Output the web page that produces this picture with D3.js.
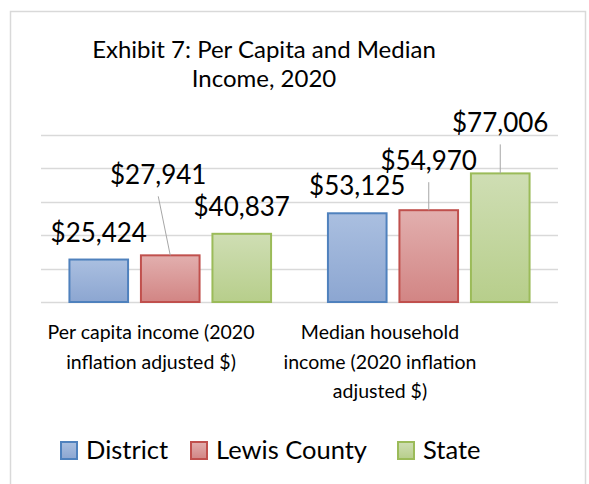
<!DOCTYPE html>
<html>
<head>
<meta charset="utf-8">
<script src="https://cdn.jsdelivr.net/npm/d3@7"></script>
<style>
  body { margin: 0; background: #fff; }
  text { font-family: Lato, "Open Sans", sans-serif; fill: #000; }
</style>
</head>
<body>
<div id="main"></div>
<script>
var categories = ['Per capita income (2020 inflation adjusted $)', 'Median household income (2020 inflation adjusted $)']
var categoryLines = [
  ['Per capita income (2020', 'inflation adjusted $)'],
  ['Median household', 'income (2020 inflation', 'adjusted $)']
]
var seriesNames = ['District', 'Lewis County', 'State']
var district = [25424, 53125]
var lewisCounty = [27941, 54970]
var state = [40837, 77006]
var yTicks = [0, 20000, 40000, 60000, 80000, 100000]

// series colours: stroke, gradient top, gradient bottom
var strokes = ['#4f81bd', '#c0504d', '#9bbb59']
var topFill = ['#aabfe0', '#e2afae', '#cfdeb4']
var bottomFill = ['#8ca6d1', '#d28584', '#b7ce8b']

// how far some labels were dragged up / sideways (px), [category][series]
var labelLift = [[0, 53, 0], [0, 22, 23]]
var labelShift = [[0, -12, 0], [0, 0, 0]]

var width = 589, height = 484
var plot = { left: 41, right: 558, top: 135, bottom: 302 }

var svg = d3.select('#main')
  .append('svg')
  .attr('width', width)
  .attr('height', height)

var defs = svg.append('defs')
seriesNames.forEach(function (_, i) {
  var g = defs.append('linearGradient')
    .attr('id', 'grad' + i)
    .attr('x1', 0).attr('y1', 0).attr('x2', 0).attr('y2', 1)
  g.append('stop').attr('offset', '0%').attr('stop-color', topFill[i])
  g.append('stop').attr('offset', '100%').attr('stop-color', bottomFill[i])
})

// frame
svg.append('rect')
  .attr('x', 10.5).attr('y', 11.5)
  .attr('width', 575).attr('height', 490)
  .attr('fill', 'none')
  .attr('stroke', '#d9d9d9')
  .attr('stroke-width', 1.5)

var x0 = d3.scaleBand()
  .domain(categories)
  .range([plot.left, plot.right])
  .paddingInner(0.22)
  .paddingOuter(0.11)

var x1 = d3.scaleBand()
  .domain(seriesNames)
  .range([0, x0.bandwidth()])
  .paddingInner(0.18)

var y = d3.scaleLinear()
  .domain([0, 100000])
  .range([plot.bottom, plot.top])

svg.append('g')
  .selectAll('line')
  .data(yTicks)
  .enter()
  .append('line')
    .attr('x1', plot.left)
    .attr('x2', plot.right)
    .attr('y1', function (d) { return Math.round(y(d)) + 0.5 })
    .attr('y2', function (d) { return Math.round(y(d)) + 0.5 })
    .attr('stroke', '#d9d9d9')
    .attr('stroke-width', 1.5)

var rows = categories.map(function (c, ci) {
  return [district[ci], lewisCounty[ci], state[ci]].map(function (v, si) {
    return { category: c, ci: ci, series: seriesNames[si], si: si, value: v }
  })
})

var groups = svg.append('g')
  .selectAll('g')
  .data(rows)
  .enter()
  .append('g')
    .attr('transform', function (_, i) { return 'translate(' + x0(categories[i]) + ',0)' })

groups.selectAll('rect')
  .data(function (d) { return d })
  .enter()
  .append('rect')
    .attr('x', function (d) { return x1(d.series) })
    .attr('y', function (d) { return y(d.value) })
    .attr('width', x1.bandwidth())
    .attr('height', function (d) { return y(0) - y(d.value) })
    .attr('fill', function (d) { return 'url(#grad' + d.si + ')' })
    .attr('stroke', function (d) { return strokes[d.si] })
    .attr('stroke-width', 2)

// leader lines for dragged labels
groups.selectAll('line.leader')
  .data(function (d) { return d.filter(function (e) { return labelLift[e.ci][e.si] > 0 }) })
  .enter()
  .append('line')
    .attr('class', 'leader')
    .attr('x1', function (d) { return x1(d.series) + x1.bandwidth() / 2 })
    .attr('y1', function (d) { return y(d.value) })
    .attr('x2', function (d) { return x1(d.series) + x1.bandwidth() / 2 + labelShift[d.ci][d.si] })
    .attr('y2', function (d) { return y(d.value) - labelLift[d.ci][d.si] - 18 + 12 })
    .attr('stroke', '#a6a6a6')
    .attr('stroke-width', 1)

var fmt = d3.format('$,')
groups.selectAll('text.val')
  .data(function (d) { return d })
  .enter()
  .append('text')
    .attr('class', 'val')
    .attr('x', function (d) { return x1(d.series) + x1.bandwidth() / 2 + labelShift[d.ci][d.si] })
    .attr('y', function (d) { return y(d.value) - 18 - labelLift[d.ci][d.si] })
    .attr('text-anchor', 'middle')
    .style('font-size', '26px')
    .text(function (d) { return fmt(d.value) })

// category labels (centres)
var catCentre = [151, 380]
svg.append('g')
  .selectAll('text')
  .data(categoryLines)
  .enter()
  .append('text')
    .attr('text-anchor', 'middle')
    .style('font-size', '19.5px')
    .each(function (lines, i) {
      d3.select(this).selectAll('tspan')
        .data(lines)
        .enter()
        .append('tspan')
          .attr('x', catCentre[i])
          .attr('y', function (_, j) { return 339 + j * 29.5 })
          .text(function (t) { return t })
    })

// title
svg.append('text')
  .attr('x', 264)
  .attr('y', 58)
  .attr('text-anchor', 'middle')
  .style('font-size', '24px')
  .selectAll('tspan')
  .data(['Exhibit 7: Per Capita and Median', 'Income, 2020'])
  .enter()
  .append('tspan')
    .attr('x', 264)
    .attr('y', function (_, i) { return 58 + i * 29 })
    .text(function (t) { return t })

// legend
var legendX = [61, 191, 398]
var legend = svg.append('g')
  .selectAll('g')
  .data(seriesNames)
  .enter()
  .append('g')
    .attr('transform', function (_, i) { return 'translate(' + legendX[i] + ',442)' })

legend.append('rect')
  .attr('width', 16)
  .attr('height', 17)
  .attr('fill', function (_, i) { return 'url(#grad' + i + ')' })
  .attr('stroke', function (_, i) { return strokes[i] })
  .attr('stroke-width', 2)

legend.append('text')
  .attr('x', 25)
  .attr('y', 17)
  .style('font-size', '25.5px')
  .text(function (d) { return d })
</script>
</body>
</html>
